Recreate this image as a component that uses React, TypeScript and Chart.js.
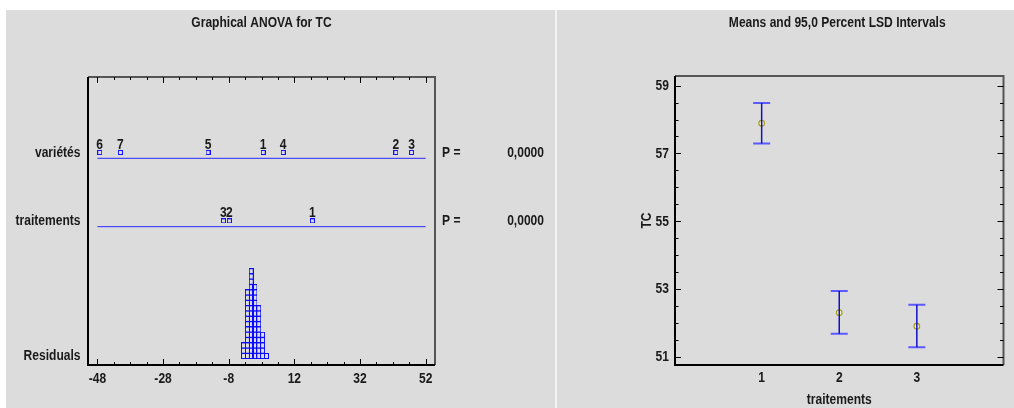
import React, { useEffect, useRef } from "react";
import { Chart, registerables } from "chart.js";

Chart.register(...registerables);

const FONT = "'Liberation Sans', Arial, sans-serif";
const TEXT = "#1a1a1a";
const NARROW = 0.86;

// ---------- Left panel: Graphical ANOVA for TC ----------
const varieteLabels = ["6", "7", "5", "1", "4", "2", "3"];
const varieteEffects = [-47.3, -41.0, -14.3, 2.5, 8.6, 42.9, 47.7];
const traitementLabels = ["1", "2", "3"];
const traitementEffects = [17.5, -7.8, -9.6];
const residualBinCenters = [-3.5, -2.3, -1.15, 0, 1.15, 2.3, 3.5];
const residualBinCounts = [3, 13, 17, 14, 10, 5, 1];
const anovaXTicks = [-48, -28, -8, 12, 32, 52];
const anovaRowLabels = ["Residuals", "traitements", "variétés"];
const anovaRowValues = [1.0, 26.5, 39.4];
const pLabels = ["P =", "P ="];
const pValues = ["0,0000", "0,0000"];

// ---------- Right panel: Means and 95,0 Percent LSD Intervals ----------
const traitements = [1, 2, 3];
const means = [57.89, 52.3, 51.9];
const lowerLimits = [57.29, 51.68, 51.28];
const upperLimits = [58.49, 52.94, 52.53];
const tcTicks = [51, 53, 55, 57, 59];

const VAR_LINE_Y = 38.3;
const TRT_LINE_Y = 25.4;

function makeBox(w: number, h: number, color: string) {
  const c = document.createElement("canvas");
  c.width = w;
  c.height = h;
  const g = c.getContext("2d")!;
  g.strokeStyle = color;
  g.lineWidth = 1;
  g.strokeRect(0.5, 0.5, w - 1, h - 1);
  return c;
}

function txt(
  ctx: CanvasRenderingContext2D,
  s: string,
  x: number,
  y: number,
  align: CanvasTextAlign,
  baseline: CanvasTextBaseline = "middle",
  rotate = 0
) {
  ctx.save();
  ctx.fillStyle = TEXT;
  ctx.font = `bold 14px ${FONT}`;
  ctx.textAlign = align;
  ctx.textBaseline = baseline;
  ctx.translate(x, y);
  if (rotate) ctx.rotate(rotate);
  ctx.scale(NARROW, 1);
  ctx.fillText(s, 0, 0);
  ctx.restore();
}

function drawFrame(ctx: CanvasRenderingContext2D, a: any) {
  ctx.save();
  ctx.lineWidth = 2;
  ctx.strokeStyle = "#555";
  ctx.beginPath();
  ctx.moveTo(a.left, a.top);
  ctx.lineTo(a.right, a.top);
  ctx.lineTo(a.right, a.bottom);
  ctx.stroke();
  ctx.strokeStyle = "#000";
  ctx.beginPath();
  ctx.moveTo(a.left, a.top);
  ctx.lineTo(a.left, a.bottom);
  ctx.lineTo(a.right, a.bottom);
  ctx.stroke();
  ctx.restore();
}

const anovaPlugin = {
  id: "anovaDecor",
  afterDatasetsDraw(chart: any) {
    const ctx: CanvasRenderingContext2D = chart.ctx;
    const a = chart.chartArea;
    const xs = chart.scales.x;
    const ys = chart.scales.y;
    chart.data.datasets.forEach((ds: any, i: number) => {
      if (!ds.numLabels) return;
      const meta = chart.getDatasetMeta(i);
      meta.data.forEach((el: any, j: number) => {
        txt(ctx, ds.numLabels[j], el.x, el.y - 3.5, "center", "alphabetic");
      });
    });

    drawFrame(ctx, a);
    ctx.save();
    ctx.strokeStyle = "#000";
    ctx.lineWidth = 1;
    for (let v = anovaXTicks[0]; v <= anovaXTicks[anovaXTicks.length - 1] + 0.01; v += 5) {
      const major = anovaXTicks.some((t) => Math.abs(t - v) < 0.01);
      const len = major ? 6 : 3;
      const px = Math.round(xs.getPixelForValue(v)) + 0.5;
      ctx.beginPath();
      ctx.moveTo(px, a.bottom);
      ctx.lineTo(px, a.bottom - len);
      ctx.moveTo(px, a.top);
      ctx.lineTo(px, a.top + len);
      ctx.stroke();
    }
    ctx.restore();

    anovaXTicks.forEach((v) => {
      txt(ctx, String(v), xs.getPixelForValue(v), a.bottom + 14, "center");
    });
    anovaRowValues.forEach((v, i) => {
      txt(ctx, anovaRowLabels[i], a.left - 7.5, ys.getPixelForValue(v) + 0.5, "right");
    });

    txt(ctx, "Graphical ANOVA for TC", (a.left + a.right) / 2, 13, "center");
    const pRows = [anovaRowValues[2], anovaRowValues[1]];
    pRows.forEach((rv, i) => {
      const py = ys.getPixelForValue(rv) + 0.5;
      txt(ctx, pLabels[i], a.right + 7, py, "left");
      txt(ctx, pValues[i], a.right + 109, py, "right");
    });
  },
};

const meansPlugin = {
  id: "meansDecor",
  afterDatasetsDraw(chart: any) {
    const ctx: CanvasRenderingContext2D = chart.ctx;
    const a = chart.chartArea;
    const xs = chart.scales.x;
    const ys = chart.scales.y;
    drawFrame(ctx, a);
    ctx.save();
    ctx.strokeStyle = "#000";
    ctx.lineWidth = 1;
    for (let v = tcTicks[0]; v <= tcTicks[tcTicks.length - 1] + 0.01; v += 0.5) {
      const major = tcTicks.some((t) => Math.abs(t - v) < 0.01);
      const len = major ? 6 : 3.5;
      const py = Math.round(ys.getPixelForValue(v)) + 0.5;
      ctx.beginPath();
      ctx.moveTo(a.left, py);
      ctx.lineTo(a.left + len, py);
      ctx.moveTo(a.right, py);
      ctx.lineTo(a.right - len, py);
      ctx.stroke();
    }
    ctx.restore();

    tcTicks.forEach((v) => {
      txt(ctx, String(v), a.left - 6, ys.getPixelForValue(v) + 0.5, "right");
    });
    traitements.forEach((v) => {
      txt(ctx, String(v), xs.getPixelForValue(v), a.bottom + 13.5, "center");
    });

    txt(ctx, "Means and 95,0 Percent LSD Intervals", (a.left + a.right) / 2 - 2, 13, "center");
    txt(ctx, "traitements", (a.left + a.right) / 2, 390, "center");
    txt(ctx, "TC", 90, (a.top + a.bottom) / 2, "center", "middle", -Math.PI / 2);
  },
};

function leftConfig(): any {
  const smallBox = makeBox(5, 5, "rgb(20,20,255)");
  const resBox = makeBox(5, 6, "rgb(10,10,255)");
  const residualPoints: { x: number; y: number }[] = [];
  residualBinCenters.forEach((c, i) => {
    for (let k = 1; k <= residualBinCounts[i]; k++) residualPoints.push({ x: c, y: k });
  });
  const xMin = anovaXTicks[0];
  const xMax = anovaXTicks[anovaXTicks.length - 1];
  return {
    type: "scatter",
    data: {
      datasets: [
        {
          type: "line",
          data: [
            { x: xMin, y: VAR_LINE_Y },
            { x: xMax, y: VAR_LINE_Y },
          ],
          borderColor: "#2a2aff",
          borderWidth: 1,
          pointRadius: 0,
        },
        {
          type: "line",
          data: [
            { x: xMin, y: TRT_LINE_Y },
            { x: xMax, y: TRT_LINE_Y },
          ],
          borderColor: "#2a2aff",
          borderWidth: 1,
          pointRadius: 0,
        },
        {
          data: varieteEffects.map((v) => ({ x: v, y: anovaRowValues[2] })),
          pointStyle: smallBox,
          numLabels: varieteLabels,
        },
        {
          data: traitementEffects.map((v) => ({ x: v, y: anovaRowValues[1] })),
          pointStyle: smallBox,
          numLabels: traitementLabels,
        },
        {
          data: residualPoints,
          pointStyle: resBox,
        },
      ],
    },
    options: {
      responsive: false,
      animation: false,
      devicePixelRatio: 1,
      events: [],
      layout: { padding: { top: 67, right: 120, bottom: 0, left: 0 } },
      plugins: { legend: { display: false }, tooltip: { enabled: false }, title: { display: false } },
      scales: {
        x: {
          type: "linear",
          min: -50.87,
          max: 54.84,
          grid: { display: false, drawTicks: false },
          border: { display: false },
          ticks: { display: false },
          afterFit: (s: any) => {
            s.height = 43;
          },
        },
        y: {
          type: "linear",
          min: -0.7,
          max: 53.64,
          grid: { display: false, drawTicks: false },
          border: { display: false },
          ticks: { display: false },
          afterFit: (s: any) => {
            s.width = 83;
          },
        },
      },
    },
    plugins: [anovaPlugin],
  };
}

function rightConfig(): any {
  const segs: { x: number; y: number | null }[] = [];
  traitements.forEach((t, i) => {
    segs.push({ x: t, y: lowerLimits[i] }, { x: t, y: upperLimits[i] }, { x: t, y: null });
  });
  const caps: { x: number; y: number }[] = [];
  traitements.forEach((t, i) => {
    caps.push({ x: t, y: lowerLimits[i] }, { x: t, y: upperLimits[i] });
  });
  return {
    type: "scatter",
    data: {
      datasets: [
        {
          type: "line",
          data: segs,
          borderColor: "#1010c8",
          borderWidth: 1.5,
          pointRadius: 0,
          spanGaps: false,
        },
        {
          data: caps,
          pointStyle: "line",
          pointRadius: 8.5,
          borderColor: "#5a5aff",
          borderWidth: 2,
        },
        {
          data: traitements.map((t, i) => ({ x: t, y: means[i] })),
          pointStyle: "circle",
          pointRadius: 2.8,
          borderColor: "#a89e18",
          backgroundColor: "rgba(255,255,220,0.6)",
          borderWidth: 1.2,
        },
      ],
    },
    options: {
      responsive: false,
      animation: false,
      devicePixelRatio: 1,
      events: [],
      layout: { padding: { top: 66, right: 1, bottom: 0, left: 0 } },
      plugins: { legend: { display: false }, tooltip: { enabled: false }, title: { display: false } },
      scales: {
        x: {
          type: "linear",
          min: -0.117,
          max: 4.117,
          grid: { display: false, drawTicks: false },
          border: { display: false },
          ticks: { display: false },
          afterFit: (s: any) => {
            s.height = 43;
          },
        },
        y: {
          type: "linear",
          min: 50.754,
          max: 59.285,
          grid: { display: false, drawTicks: false },
          border: { display: false },
          ticks: { display: false },
          afterFit: (s: any) => {
            s.width = 118;
          },
        },
      },
    },
    plugins: [meansPlugin],
  };
}

export default function App() {
  const leftRef = useRef<HTMLCanvasElement>(null);
  const rightRef = useRef<HTMLCanvasElement>(null);
  useEffect(() => {
    const left = new Chart(leftRef.current!, leftConfig());
    const right = new Chart(rightRef.current!, rightConfig());
    return () => {
      left.destroy();
      right.destroy();
    };
  }, []);
  return (
    <div
      style={{
        position: "absolute",
        left: 0,
        top: 0,
        width: 1014,
        height: 408,
        background: "#ffffff",
        overflow: "hidden",
      }}
    >
      <div style={{ position: "absolute", left: 6, top: 10, width: 1008, height: 398, background: "#dcdcdc" }} />
      <div style={{ position: "absolute", left: 555, top: 10, width: 2, height: 398, background: "#f3f3f3" }} />
      <canvas
        ref={leftRef}
        width={550}
        height={398}
        style={{ position: "absolute", left: 5, top: 10, width: 550, height: 398 }}
      />
      <canvas
        ref={rightRef}
        width={457}
        height={398}
        style={{ position: "absolute", left: 557, top: 10, width: 457, height: 398 }}
      />
    </div>
  );
}
